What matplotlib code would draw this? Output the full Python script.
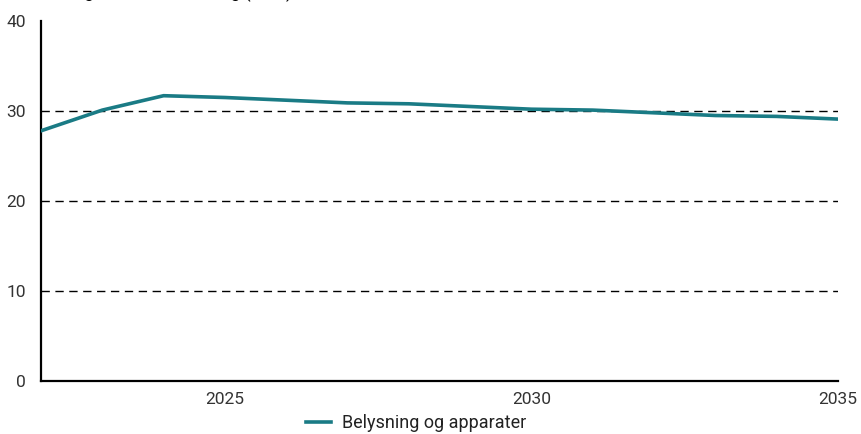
import matplotlib
matplotlib.use("Agg")
import matplotlib.pyplot as plt

years = [2022, 2023, 2024, 2025, 2026, 2027, 2028, 2029, 2030, 2031, 2032, 2033, 2034, 2035]
values = [27.8, 30.1, 31.7, 31.5, 31.2, 30.9, 30.8, 30.5, 30.2, 30.1, 29.8, 29.5, 29.4, 29.1]
series_name = "Belysning og apparater"
x_ticks = [2025, 2030, 2035]
y_ticks = [0, 10, 20, 30, 40]
grid_levels = [10, 20, 30]
title_text = "Elforbruk og modellert utvikling (TWh)"

plt.rcParams['font.family'] = ['Roboto', 'DejaVu Sans']

fig = plt.figure(figsize=(8.61, 4.34), dpi=100)
ax = fig.add_axes([41/861, 1-381/434, (838-41)/861, (381-21)/434])

for lv in grid_levels:
    ax.axhline(lv, color='black', lw=1, ls=(0, (6, 4)), zorder=1)

ax.plot(years, values, color='#1a7b85', lw=2.6, label=series_name, zorder=3)

ax.set_xlim(2022, 2035)
ax.set_ylim(0, 40)
ax.set_xticks(x_ticks)
ax.set_yticks(y_ticks)
ax.tick_params(axis='both', length=0, labelsize=12.5, colors='#333333')
ax.tick_params(axis='x', pad=8)
ax.tick_params(axis='y', pad=11)
for s in ['top', 'right']:
    ax.spines[s].set_visible(False)
for s in ['left', 'bottom']:
    ax.spines[s].set_linewidth(1.6)
    ax.spines[s].set_color('black')

handles, labels = ax.get_legend_handles_labels()
leg = fig.legend(handles, labels, loc='center', bbox_to_anchor=(0.483, 0.025), frameon=False,
                 fontsize=13, handlelength=1.4, handletextpad=0.6, borderpad=0)
for t in leg.get_texts():
    t.set_color('#222222')

fig.text(0.0, 1 + 1.5/434, title_text, fontsize=12.5, va='baseline', ha='left', color='black')

fig.savefig('out.png', dpi=100)
